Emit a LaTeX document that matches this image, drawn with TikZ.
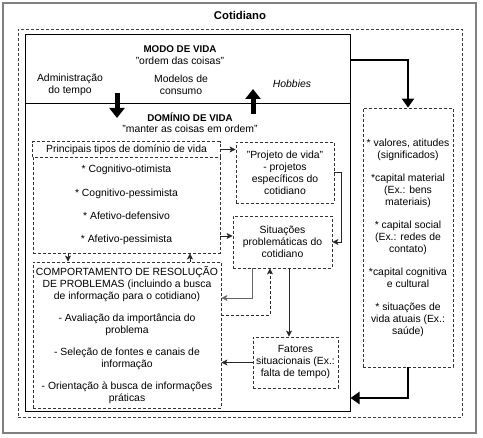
\documentclass[tikz,border=0pt]{standalone}
\usepackage{fontspec}
\setmainfont{Liberation Sans}
\usetikzlibrary{arrows.meta}
\newcommand\ftxt{\fontsize{10.4}{12}\selectfont}
\newcommand\fbld{\fontsize{9.8}{12}\selectfont\bfseries}
\newcommand\fttl{\fontsize{11.3}{13}\selectfont\bfseries}
\begin{document}
\begin{tikzpicture}[x=1pt,y=-1pt,
  dsh/.style={draw=black!80, dash pattern=on 3pt off 2pt, line width=0.8pt},
  dbox/.style={dsh, inner sep=0pt, align=center, font=\ftxt},
  txt/.style={inner sep=0pt, align=center, font=\ftxt},
  arr/.style={-{Stealth[length=6pt,width=6pt,inset=1.5pt]}, line width=0.8pt, draw=black!85},
  thk/.style={line width=2.4pt, -{Triangle[length=9pt,width=12pt]}},
  blk/.style={line width=5pt, -{Triangle[length=10pt,width=15pt]}}]
\useasboundingbox (0,0) rectangle (483,438);
% frames
\node[draw=black!50, line width=1.2pt, minimum width=473pt, minimum height=430pt, inner sep=0pt] (cot) at (239.5,218) {};
\node[font=\fttl, inner sep=0pt] (cottl) at (240,15) {Cotidiano};
\node[draw=black!75, dash pattern=on 3pt off 2pt, line width=0.8pt, minimum width=444pt, minimum height=388pt, inner sep=0pt] (frame) at (240,223) {};
\node[draw=black, line width=1pt, minimum width=325pt, minimum height=377pt, inner sep=0pt] (main) at (187.5,223.5) {};
\coordinate (ysplit) at (0,104);
\draw[line width=1pt] (main.west |- ysplit) -- (main.east |- ysplit);
% modo de vida
\node[font=\fbld, inner sep=0pt] (modo) at (180,49) {MODO DE VIDA};
\node[txt] (ordem) at (180,61) {"ordem das coisas"};
\node[txt] (adm) at (70,84.5) {Administração\\do tempo};
\node[txt] (mod) at (181,84.5) {Modelos de\\consumo};
\node[txt, font=\ftxt\itshape] (hob) at (292,84) {Hobbies};
% dominio
\node[font=\fbld, inner sep=0pt] (dom) at (190,117) {DOMÍNIO DE VIDA};
\node[txt] (mant) at (190,129) {"manter as coisas em ordem"};
% block arrows
\coordinate (da1) at (117,93); \coordinate (da2) at (117,118);
\coordinate (ua1) at (253,114); \coordinate (ua2) at (253,89);
\draw[blk] (da1) -- (da2);
\draw[blk] (ua1) -- (ua2);
% boxes
\node[txt, minimum width=187pt, minimum height=15pt] (princ) at (126.5,149.5) {Principais tipos de domínio de vida};
\draw[dsh] (princ.south west) |- (princ.north east) -- (princ.south east);
\node[dbox, minimum width=187pt, minimum height=96pt] (lista) at (126.5,205) {* Cognitivo-otimista\\[11.3pt]* Cognitivo-pessimista\\[11.3pt]* Afetivo-defensivo\\[11.3pt]* Afetivo-pessimista};
\node[dbox, minimum width=188pt, minimum height=146pt] (comp) at (127,335) {COMPORTAMENTO DE RESOLUÇÃO\\DE PROBLEMAS (incluindo a busca\\de informação para o cotidiano)\\[10pt]- Avaliação da importância do\\problema\\[10pt]- Seleção de fontes e canais de\\informação\\[10pt]- Orientação à busca de informações\\práticas};
\node[dbox, minimum width=98pt, minimum height=61pt] (proj) at (285,172.5) {"Projeto de vida"\\- projetos\\específicos do\\cotidiano};
\node[dbox, minimum width=99pt, minimum height=52pt] (situ) at (282.5,242) {Situações\\problemáticas do\\cotidiano};
\node[dbox, minimum width=85pt, minimum height=51pt] (fat) at (295.5,362.5) {Fatores\\situacionais (Ex.:\\falta de tempo)};
\node[dbox, minimum width=90pt, minimum height=259pt] (rec) at (408,237.5) {* valores, atitudes\\(significados)\\[11pt]*capital material\\(Ex.: bens\\materiais)\\[11pt]* capital social\\(Ex.: redes de\\contato)\\[11pt]*capital cognitiva\\e cultural\\[11pt]* situações de\\vida atuais (Ex.:\\saúde)};
% thick connectors
\coordinate (y60) at (0,60); \coordinate (y398) at (0,398);
\draw[thk] (main.east |- y60) -| (rec.north);
\draw[thk] (rec.south) |- (main.east |- y398);
% thin connectors
\coordinate (y236) at (0,236);
\coordinate (x68) at (68,0); \coordinate (x190) at (190,0);
\coordinate (x252) at (252,0); \coordinate (x270) at (270,0); \coordinate (x289) at (289,0);
\coordinate (y298) at (0,298); \coordinate (y315) at (0,315);
\draw[arr] (princ.east) -- (proj.west |- princ.east);
\draw[arr] (lista.east |- y236) -- (situ.west |- y236);
\draw[arr] (proj.east) -- ++(7,0) |- (situ.east);
\draw[arr] (lista.south -| x68) -- (comp.north -| x68);
\draw[arr] (comp.north -| x190) -- (lista.south -| x190);
\draw[arr, draw=black!60] (situ.south -| x252) |- (comp.east |- y298);
\draw[arr, dash pattern=on 3pt off 2pt] (comp.east |- y315) -| (situ.south -| x270);
\draw[arr] (situ.south -| x289) -- (fat.north -| x289);
\draw[arr] (fat.west) -- (comp.east |- fat.west);
\end{tikzpicture}
\end{document}
